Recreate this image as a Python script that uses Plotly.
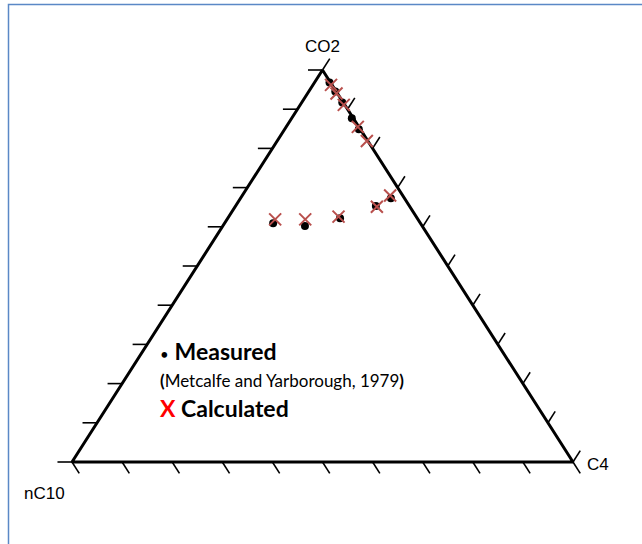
import plotly.graph_objects as go

# ---------------- data (mole fractions) ----------------
axis_titles = ["CO2", "C4", "nC10"]
tick_values = [0.0, 0.1, 0.2, 0.3, 0.4, 0.5, 0.6, 0.7, 0.8, 0.9, 1.0]

meas_co2 = [0.968, 0.945, 0.917, 0.877, 0.849, 0.609, 0.602, 0.622, 0.653, 0.673]
meas_c4 = [0.030, 0.053, 0.081, 0.120, 0.148, 0.097, 0.164, 0.224, 0.280, 0.300]
meas_nc10 = [0.002, 0.002, 0.002, 0.003, 0.003, 0.294, 0.234, 0.154, 0.067, 0.027]

calc_co2 = [0.962, 0.940, 0.911, 0.855, 0.819, 0.619, 0.619, 0.626, 0.651, 0.680]
calc_c4 = [0.036, 0.058, 0.087, 0.143, 0.179, 0.096, 0.156, 0.219, 0.283, 0.295]
calc_nc10 = [0.002, 0.002, 0.002, 0.002, 0.002, 0.285, 0.225, 0.155, 0.066, 0.025]

legend_measured = "Measured"
legend_source = "(Metcalfe and Yarborough, 1979)"
legend_calculated = "Calculated"


# ---------------- ternary -> cartesian ----------------
def tern(co2, c4, nc10):
    s = co2 + c4 + nc10
    return (c4 + co2 / 2.0) / s, co2 / s


def tern_list(a, b, c):
    xs, ys = [], []
    for p, q, r in zip(a, b, c):
        x, y = tern(p, q, r)
        xs.append(x)
        ys.append(y)
    return xs, ys


L = 0.029  # tick length (ternary units)
CROSS = "#B9504D"

fig = go.Figure()

# triangle outline
vx, vy = tern_list([1, 0, 0, 1], [0, 1, 0, 0], [0, 0, 1, 0])
fig.add_trace(go.Scatter(x=vx, y=vy, mode="lines",
                         line=dict(color="black", width=3),
                         hoverinfo="skip", showlegend=False))

# ticks
tx, ty = [], []
for t in tick_values:
    # CO2 axis (left side): constant CO2, extend outward (c4 negative)
    for (a, b, c) in [(t, 0.0, 1 - t), (t, -L, 1 - t + L)]:
        x, y = tern(a, b, c)
        tx.append(x); ty.append(y)
    tx.append(None); ty.append(None)
    # nC10 axis (base): constant nC10, extend below (co2 negative)
    for (a, b, c) in [(0.0, 1 - t, t), (-L, 1 - t + L, t)]:
        x, y = tern(a, b, c)
        tx.append(x); ty.append(y)
    tx.append(None); ty.append(None)
    # C4 axis (right side): constant C4, extend outward (nc10 negative)
    for (a, b, c) in [(1 - t, t, 0.0), (1 - t + L, t, -L)]:
        x, y = tern(a, b, c)
        tx.append(x); ty.append(y)
    tx.append(None); ty.append(None)
fig.add_trace(go.Scatter(x=tx, y=ty, mode="lines",
                         line=dict(color="black", width=1.6),
                         hoverinfo="skip", showlegend=False))

# measured
mx, my = tern_list(meas_co2, meas_c4, meas_nc10)
fig.add_trace(go.Scatter(x=mx, y=my, mode="markers", name="Measured",
                         marker=dict(symbol="circle", size=8, color="black"),
                         showlegend=False))
# calculated
cx, cy = tern_list(calc_co2, calc_c4, calc_nc10)
fig.add_trace(go.Scatter(x=cx, y=cy, mode="markers", name="Calculated",
                         marker=dict(symbol="x-thin-open", size=12, color=CROSS,
                                     line=dict(color=CROSS, width=2)),
                         showlegend=False))

# vertex titles
title_font = dict(family="Liberation Sans, Arial", size=17, color="black")
for name, (a, b, c), xs, ys in [
    (axis_titles[0], (1, 0, 0), 0, 24),
    (axis_titles[1], (0, 1, 0), 25, -2),
    (axis_titles[2], (0, 0, 1), -28, -31),
]:
    x, y = tern(a, b, c)
    fig.add_annotation(x=x, y=y, xref="x", yref="y", text=name, showarrow=False,
                       xshift=xs, yshift=ys, font=title_font,
                       xanchor="center", yanchor="middle")

W, H = 642, 544
leg_font = "Lato, Carlito, Calibri, sans-serif"
fig.add_annotation(x=158 / W, y=1 - 351 / H, xref="paper", yref="paper",
                   xanchor="left", yanchor="middle", showarrow=False,
                   text="<span style='font-size:15px'>•</span> <b>" + legend_measured + "</b>",
                   font=dict(family=leg_font, size=23, color="black"))
fig.add_annotation(x=158 / W, y=1 - 380 / H, xref="paper", yref="paper",
                   xanchor="left", yanchor="middle", showarrow=False,
                   text="<b>(</b>" + legend_source[1:-1] + "<b>)</b>",
                   font=dict(family=leg_font, size=17, color="black"))
fig.add_annotation(x=158 / W, y=1 - 408 / H, xref="paper", yref="paper",
                   xanchor="left", yanchor="middle", showarrow=False,
                   text="<b><span style='color:#FF0000'>X</span> " + legend_calculated + "</b>",
                   font=dict(family=leg_font, size=23, color="black"))

# chart border (blue, top & left visible)
fig.add_shape(type="rect", xref="paper", yref="paper",
              x0=8.5 / W, x1=1.02, y0=-0.02, y1=1 - 4.5 / H,
              line=dict(color="#5A88C6", width=1.5))

fig.update_layout(
    width=W, height=H,
    margin=dict(l=0, r=0, t=0, b=0, pad=0),
    paper_bgcolor="white", plot_bgcolor="white",
    xaxis=dict(range=[-72 / 501, 570 / 501], visible=False, fixedrange=True),
    yaxis=dict(range=[-82 / 392, 462 / 392], visible=False, fixedrange=True),
    showlegend=False,
)

fig.write_html("out.html")
